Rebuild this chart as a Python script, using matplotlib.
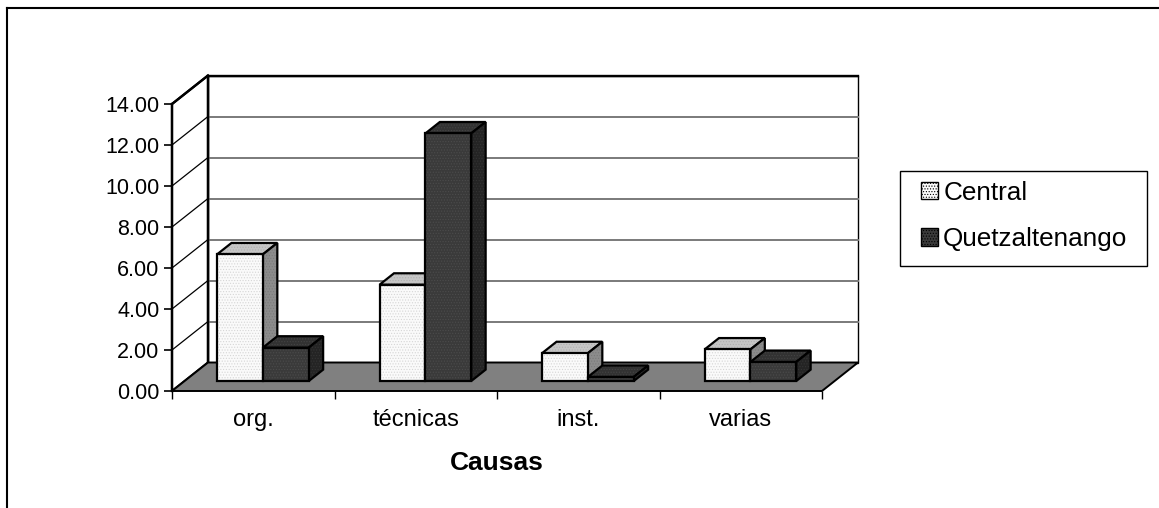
import matplotlib
matplotlib.use("Agg")
import matplotlib.pyplot as plt
from matplotlib.patches import Polygon, Patch, Rectangle
from matplotlib.lines import Line2D

plt.rcParams['font.family'] = ['Liberation Sans', 'DejaVu Sans']
plt.rcParams['hatch.linewidth'] = 0.5

# ---- data ----
categories = ["org.", "técnicas", "inst.", "varias"]
series_names = ["Central", "Quetzaltenango"]
central = [6.18, 4.70, 1.36, 1.54]
quetzaltenango = [1.63, 12.08, 0.20, 0.93]
y_ticks = [0, 2, 4, 6, 8, 10, 12, 14]

# ---- style ----
W, H = 1159, 508
fig = plt.figure(figsize=(W / 100, H / 100), dpi=100)
fig.patch.set_facecolor("white")

# front plane of the plot box (pixels)
x0_px, x1_px = 172, 822
y0_px, y1_px = 391, 104
ax = fig.add_axes([x0_px / W, (H - y0_px) / H, (x1_px - x0_px) / W, (y0_px - y1_px) / H])
ax.set_xlim(0, len(categories))
ax.set_ylim(0, 14)
ax.patch.set_visible(False)
for s in ax.spines.values():
    s.set_visible(False)

# oblique depth vector in data units
px_per_cat = (x1_px - x0_px) / len(categories)
px_per_val = (y0_px - y1_px) / 14.0
DX = 36.0 / px_per_cat
DY = 28.5 / px_per_val


def P(x, y, d):
    return (x + d * DX, y + d * DY)


def poly(pts, fc, ec="black", lw=1.6, z=1, hatch=None, hatch_color=None):
    if hatch is not None:
        ax.add_patch(Polygon(pts, closed=True, facecolor=fc, edgecolor=hatch_color,
                             linewidth=0, hatch=hatch, zorder=z, clip_on=False))
        ax.add_patch(Polygon(pts, closed=True, facecolor="none", edgecolor=ec,
                             linewidth=lw, zorder=z, clip_on=False, joinstyle="miter"))
    else:
        ax.add_patch(Polygon(pts, closed=True, facecolor=fc, edgecolor=ec,
                             linewidth=lw, zorder=z, clip_on=False, joinstyle="miter"))


ncat = len(categories)
top = y_ticks[-1]

# back wall
poly([P(0, 0, 1), P(ncat, 0, 1), P(ncat, top, 1), P(0, top, 1)], "white", ec="black", lw=1.0, z=0.5)
# side wall
poly([P(0, 0, 0), P(0, top, 0), P(0, top, 1), P(0, 0, 1)], "white", ec="black", lw=1.6, z=0.6)

# gridlines: back wall (gray) and side wall (black diagonals)
for v in y_ticks[1:-1]:
    a, b = P(0, v, 1), P(ncat, v, 1)
    ax.plot([a[0], b[0]], [a[1], b[1]], color="#7a7a7a", lw=1.4, zorder=0.7, clip_on=False)
for v in y_ticks[1:]:
    a, b = P(0, v, 0), P(0, v, 1)
    ax.plot([a[0], b[0]], [a[1], b[1]], color="black", lw=0.9, zorder=0.7, clip_on=False)
# heavier edges of the walls
for (p, q) in [((0, 0, 1), (0, top, 1)), ((0, top, 1), (ncat, top, 1)), ((0, top, 0), (0, top, 1)),
               ((0, 0, 0), (0, top, 0))]:
    a, b = P(*p), P(*q)
    ax.plot([a[0], b[0]], [a[1], b[1]], color="black", lw=1.7, zorder=0.8, clip_on=False,
            solid_capstyle="projecting")

# floor
poly([P(0, 0, 0), P(ncat, 0, 0), P(ncat, 0, 1), P(0, 0, 1)], "#808080", ec="black", lw=1.4, z=0.9)

# bars
d_front, d_back = 0.35, 0.75
bw = 0.282
g_start = 0.2
face = {
    0: dict(front="#fafafa", top="#c6c6c6", side="#8c8c8c", hatch="#d6d6d6",
            hatch_top="#b0b0b0", hatch_side="#7a7a7a"),
    1: dict(front="#3a3a3a", top="#323232", side="#242424", hatch="#4c4c4c",
            hatch_top="#444444", hatch_side="#343434"),
}
for i in range(ncat):
    for k, vals in enumerate([central, quetzaltenango]):
        v = vals[i]
        xl = i + g_start + k * bw
        xr = xl + bw
        c = face[k]
        # top face
        poly([P(xl, v, d_front), P(xr, v, d_front), P(xr, v, d_back), P(xl, v, d_back)],
             c["top"], z=2 + i + 0.1 * k, hatch="......", hatch_color=c["hatch_top"])
        # right side face
        poly([P(xr, 0, d_front), P(xr, 0, d_back), P(xr, v, d_back), P(xr, v, d_front)],
             c["side"], z=2 + i + 0.1 * k, hatch="......", hatch_color=c["hatch_side"])
        # front face
        poly([P(xl, 0, d_front), P(xr, 0, d_front), P(xr, v, d_front), P(xl, v, d_front)],
             c["front"], z=2.05 + i + 0.1 * k, hatch="......", hatch_color=c["hatch"])

# axes ticks and labels
ax.set_yticks(y_ticks)
ax.set_yticklabels([f"{v:.2f}" for v in y_ticks])
ax.set_xticks(range(ncat + 1))
ax.set_xticklabels([])
ax.set_xticks([i + 0.5 for i in range(ncat)], minor=True)
ax.set_xticklabels(categories, minor=True)
ax.tick_params(axis="y", direction="out", length=6, width=1.2, pad=3, labelsize=15.5, colors="black")
ax.tick_params(axis="x", which="major", direction="out", length=6, width=1.0, pad=0)
ax.tick_params(axis="x", which="minor", length=0, pad=13, labelsize=17)
ax.set_xlabel("Causas", fontsize=19, fontweight="bold", labelpad=14)

# legend: box frame plus frameless entries
fig.add_artist(Rectangle((900 / W, (H - 266) / H), 247 / W, 95 / H, transform=fig.transFigure,
                         facecolor="white", edgecolor="black", linewidth=1.0, zorder=5))
handles = [Patch(facecolor=face[0]["front"], edgecolor="black", hatch="......", linewidth=1.0),
           Patch(facecolor=face[1]["front"], edgecolor="black", hatch="......", linewidth=1.0)]
leg = fig.legend(handles, series_names, loc="center left",
                 bbox_to_anchor=(921 / W, (H - 216) / H),
                 fontsize=18.8, frameon=False,
                 handlelength=0.65, handleheight=0.65, handletextpad=0.2,
                 labelspacing=0.85, borderpad=0, borderaxespad=0)
leg.set_zorder(6)

# outer chart border (top and left)
fig.add_artist(Line2D([7 / W, 1], [(H - 8) / H, (H - 8) / H], color="black", lw=1.5,
                      transform=fig.transFigure))
fig.add_artist(Line2D([7 / W, 7 / W], [0, (H - 8) / H], color="black", lw=1.5,
                      transform=fig.transFigure))

fig.savefig("out.png", dpi=100)
